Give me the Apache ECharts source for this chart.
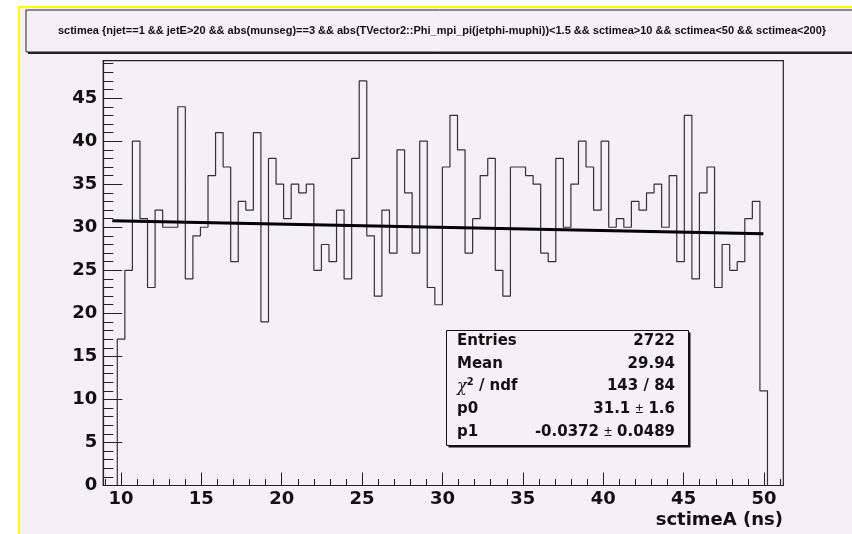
<!DOCTYPE html>
<html>
<head>
<meta charset="utf-8">
<script src="https://cdn.jsdelivr.net/npm/echarts@6/dist/echarts.min.js"></script>
<style>
html,body{margin:0;padding:0;background:#ffffff;}
#chart{width:852px;height:534px;}
</style>
</head>
<body>
<div id="chart"></div>
<script>
// ---- data ----
const titleText = 'sctimea {njet==1 && jetE>20 && abs(munseg)==3 && abs(TVector2::Phi_mpi_pi(jetphi-muphi))<1.5 && sctimea>10 && sctimea<50 && sctimea<200}';
const xAxisTitle = 'sctimeA (ns)';
const binStart = 9.77;
const binWidth = 0.4703;
const binValues = [
  17,25,40,31,23,32,30,30,44,24,
  29,30,36,41,37,26,33,32,41,19,
  38,35,31,35,34,35,25,28,26,32,
  24,38,47,29,22,32,27,39,34,27,
  40,23,21,37,43,39,27,31,36,38,
  25,22,37,37,36,35,27,26,38,30,
  35,40,37,32,40,30,31,30,33,32,
  34,35,30,36,26,43,24,34,37,23,
  28,25,26,31,33,11
];
const fitX = [9.46, 49.96];
const fitY = [30.75, 29.24];
const xMajorTicks = [10,15,20,25,30,35,40,45,50];
const xMinorTicks = [9,10,11,12,13,14,15,16,17,18,19,20,21,22,23,24,25,26,27,28,29,30,31,32,33,34,35,36,37,38,39,40,41,42,43,44,45,46,47,48,49,50,51];
const yMajorTicks = [0,5,10,15,20,25,30,35,40,45];
const yMinorTicks = [0,1,2,3,4,5,6,7,8,9,10,11,12,13,14,15,16,17,18,19,20,21,22,23,24,25,26,27,28,29,30,31,32,33,34,35,36,37,38,39,40,41,42,43,44,45,46,47,48,49];
const xRange = [8.9, 51.2];
const yRange = [0, 49.35];
const statLabels = ['Entries', 'Mean', '{chi|χ}{sup|2}{b| / ndf}', 'p0', 'p1'];
const statValues = ['2722', '29.94', '143 / 84', '31.1 {pm|±} 1.6', '-0.0372 {pm|±} 0.0489'];

// ---- build step outline from bins ----
const histPoints = [];
histPoints.push([binStart, 0]);
binValues.forEach((v, i) => {
  const x0 = binStart + i * binWidth;
  const x1 = binStart + (i + 1) * binWidth;
  histPoints.push([x0, v]);
  histPoints.push([x1, v]);
});
histPoints.push([binStart + binValues.length * binWidth, 0]);
const fitPoints = fitX.map((x, i) => [x, fitY[i]]);

const FONT = "'Liberation Sans', Arial, Helvetica, sans-serif";
const WFONT = "'DejaVu Sans', 'Liberation Sans', sans-serif";
const BG = '#f4f0f4';
const INK = '#111111';

const chart = echarts.init(document.getElementById('chart'), null, {renderer: 'canvas'});

const statGraphics = [];
statLabels.forEach((lab, i) => {
  const y = 341 + i * 22.7;
  statGraphics.push({
    type: 'text', x: 457, y: y, z: 20,
    style: {
      text: lab, fill: INK, font: 'bold 15px ' + WFONT,
      textVerticalAlign: 'middle', textAlign: 'left',
      rich: {
        chi: {fontFamily: 'DejaVu Serif', fontStyle: 'italic', fontSize: 16, fill: INK},
        sup: {fontFamily: WFONT, fontWeight: 'bold', fontSize: 10, verticalAlign: 'top', padding: [0,0,8,0], fill: INK},
        b: {fontFamily: WFONT, fontWeight: 'bold', fontSize: 15, fill: INK}
      }
    }
  });
  statGraphics.push({
    type: 'text', x: 675, y: y, z: 20,
    style: {
      text: statValues[i], fill: INK, font: 'bold 15px ' + WFONT,
      textVerticalAlign: 'middle', textAlign: 'right',
      rich: {
        pm: {fontFamily: FONT, fontWeight: 'normal', fontSize: 14, fill: INK}
      }
    }
  });
});

const option = {
  animation: false,
  backgroundColor: '#ffffff',
  graphic: [
    // canvas area with yellow border
    {type: 'rect', z: -10, shape: {x: 19, y: 7, width: 860, height: 560},
     style: {fill: BG, stroke: '#ffff00', lineWidth: 2}},
    // title pave shadow and box
    {type: 'rect', z: 10, shape: {x: 28, y: 12, width: 900, height: 42}, style: {fill: '#222'}},
    {type: 'rect', z: 11, shape: {x: 26, y: 10, width: 900, height: 42},
     style: {fill: BG, stroke: '#222', lineWidth: 1}},
    {type: 'text', z: 12, x: 442, y: 31,
     style: {text: titleText, fill: INK, font: 'bold 11px ' + FONT, textAlign: 'center', textVerticalAlign: 'middle'}},
    // stats box shadow and box
    {type: 'rect', z: 18, shape: {x: 448.5, y: 332.5, width: 242, height: 115}, style: {fill: '#111'}},
    {type: 'rect', z: 19, shape: {x: 446.5, y: 330.5, width: 242, height: 115},
     style: {fill: BG, stroke: '#111', lineWidth: 1}},
    ...statGraphics,
    // x axis title
    {type: 'text', z: 12, x: 783, y: 520,
     style: {text: xAxisTitle, fill: INK, font: 'bold 18px ' + WFONT, textAlign: 'right', textVerticalAlign: 'middle'}}
  ],
  grid: {
    show: true, left: 103.3, right: 68.7, top: 60.7, bottom: 48.5,
    containLabel: false, outerBoundsMode: 'none',
    borderColor: '#222', borderWidth: 1.2, backgroundColor: 'transparent'
  },
  xAxis: [
    {
      type: 'value', position: 'bottom', min: xRange[0], max: xRange[1],
      axisLine: {show: true, onZero: false, lineStyle: {color: '#222', width: 1.2}},
      axisTick: {show: true, inside: true, length: 13, customValues: xMajorTicks, lineStyle: {color: '#222', width: 1}},
      axisLabel: {show: true, customValues: xMajorTicks, margin: 5, color: INK, fontFamily: WFONT, fontWeight: 'bold', fontSize: 18},
      splitLine: {show: false}
    },
    {
      type: 'value', position: 'bottom', min: xRange[0], max: xRange[1],
      axisLine: {show: false, onZero: false},
      axisTick: {show: true, inside: true, length: 6.5, customValues: xMinorTicks, lineStyle: {color: '#222', width: 1}},
      axisLabel: {show: false},
      splitLine: {show: false}
    }
  ],
  yAxis: [
    {
      type: 'value', position: 'left', min: yRange[0], max: yRange[1],
      axisLine: {show: true, onZero: false, lineStyle: {color: '#222', width: 1.2}},
      axisTick: {show: true, inside: true, length: 19, customValues: yMajorTicks, lineStyle: {color: '#222', width: 1}},
      axisLabel: {show: true, customValues: yMajorTicks, margin: 6, color: INK, fontFamily: WFONT, fontWeight: 'bold', fontSize: 18},
      splitLine: {show: false}
    },
    {
      type: 'value', position: 'left', min: yRange[0], max: yRange[1],
      axisLine: {show: false, onZero: false},
      axisTick: {show: true, inside: true, length: 10, customValues: yMinorTicks, lineStyle: {color: '#222', width: 1}},
      axisLabel: {show: false},
      splitLine: {show: false}
    }
  ],
  series: [
    {
      name: 'sctimea', type: 'line', xAxisIndex: 0, yAxisIndex: 0,
      data: histPoints, symbol: 'none', silent: true, z: 3,
      lineStyle: {color: '#333333', width: 1.2}
    },
    {
      name: 'fit', type: 'line', xAxisIndex: 0, yAxisIndex: 0,
      data: fitPoints, symbol: 'none', silent: true, z: 4,
      lineStyle: {color: '#000000', width: 3}
    }
  ]
};
chart.setOption(option);
</script>
</body>
</html>
